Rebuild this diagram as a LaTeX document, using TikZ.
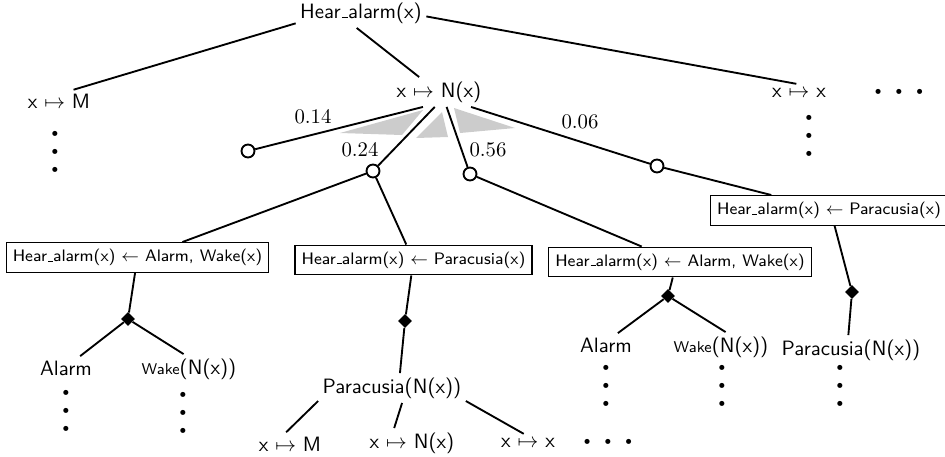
\documentclass[tikz,border=0pt]{standalone}
\usepackage{tikz}
\usetikzlibrary{shapes.geometric}
\tikzset{
    % Define standard edge style
    branch/.style={
           draw=black,
           line width=0.9pt,}
}
\newcommand{\dotfont}{\fontsize{5}{8.5}\selectfont}
\newcommand{\vdotz}{$\bullet$\\$\bullet$\\$\bullet$}
\newcommand{\hdotz}{$\bullet$\hspace{6.3pt}$\bullet$\hspace{6.3pt}$\bullet$}
\newcommand{\usc}{\leavevmode\kern.06em\vbox{\hrule width.3em height .5pt}}
\newcommand{\hear}{Hear\usc alarm(x)}
\newcommand{\wake}{{\fontsize{7.5}{9}\selectfont Wake}}

\begin{document}
\begin{tikzpicture}[x=0.1693mm, y=-0.1693mm, font=\sffamily]
\tikzstyle{term}=[inner sep=2pt, align=center]
\tikzstyle{rulebox}=[draw=black, line width=0.5pt, rectangle, inner sep=3.2pt, font=\sffamily\footnotesize]
\tikzstyle{choice}=[circle, draw=black, fill=white, line width=0.9pt, inner sep=0pt, minimum size=2.2mm]
\tikzstyle{andnode}=[diamond, fill=black, inner sep=0pt, minimum size=2.4mm]
\tikzstyle{dotsnode}=[inner sep=0pt, align=center, font=\dotfont]
\tikzstyle{prob}=[inner sep=0pt, font=\rmfamily]

\useasboundingbox (0,0) rectangle (945,457);

%%%%%%%%%%%%%%%%%%%%%%%%%%%%%%%%%
% top level
%%%%%%%%%%%%%%%%%%%%%%%%%%%%%%%%%
    \node[term] (root) at (361,13) {\hear};
    \node[term] (xM)   at (59,101.5) {x $\mapsto$ M};
    \node[term] (xN)   at (439,92) {x $\mapsto$ N(x)};
    \node[term] (xx)   at (799,93) {x $\mapsto$ x};
    \node[dotsnode] (topdots) at (899,92) {\hdotz};
    \node[dotsnode] (xMdots)  at (55,152) {\vdotz};
    \node[dotsnode] (xxdots)  at (809,136) {\vdotz};

\path[branch] (root.189) -- (xM.39);
\path[branch] (root.254) -- (xN.143);
\path[branch] (root.357) -- (xx.106);

%%%%%%%%%%%%%%%%%%%%%%%%%%%%%%%%%
% choices below x -> N(x)
%%%%%%%%%%%%%%%%%%%%%%%%%%%%%%%%%
    \fill[black!20] (340,133) -- (423,110) -- (402,135) -- cycle;
    \fill[black!20] (442,112) -- (416,138) -- (448,137) -- cycle;
    \fill[black!20] (454,108) -- (460,133) -- (515,128) -- cycle;

    \node[choice] (c1) at (248,151) {};
    \node[choice] (c2) at (373,171) {};
    \node[choice] (c3) at (470,174) {};
    \node[choice] (c4) at (657,166) {};

\path[branch] (xN.223) -- (c1);
\path[branch] (xN.254) -- (c2);
\path[branch] (xN.297) -- (c3);
\path[branch] (xN.335) -- (c4);

    \node[prob] (p1) at (313,117) {$0.14$};
    \node[prob] (p2) at (360,150) {$0.24$};
    \node[prob] (p3) at (488,150) {$0.56$};
    \node[prob] (p4) at (580,122) {$0.06$};

%%%%%%%%%%%%%%%%%%%%%%%%%%%%%%%%%
% rules
%%%%%%%%%%%%%%%%%%%%%%%%%%%%%%%%%
    \node[rulebox] (r1) at (137.5,257.5) {\hear{} $\leftarrow$ Alarm, Wake(x)};
    \node[rulebox] (r2) at (413.5,260) {\hear{} $\leftarrow$ Paracusia(x)};
    \node[rulebox] (r3) at (680,262) {\hear{} $\leftarrow$ Alarm, Wake(x)};
    \node[rulebox] (r4) at (829,210.5) {\hear{} $\leftarrow$ Paracusia(x)};

\path[branch] (c2) -- (r1.19);
\path[branch] (c2) -- (r2.115);
\path[branch] (c3) -- (r3.158);
\path[branch] (c4) -- (r4.165);

    \node[andnode] (d1) at (128,319) {};
    \node[andnode] (d2) at (405,321) {};
    \node[andnode] (d3) at (668,296) {};
    \node[andnode] (d4) at (852,292) {};

\path[branch] (r1.261) -- (d1);
\path[branch] (r2.262) -- (d2);
\path[branch] (r3.245) -- (d3);
\path[branch] (r4.290) -- (d4);

%%%%%%%%%%%%%%%%%%%%%%%%%%%%%%%%%
% bodies
%%%%%%%%%%%%%%%%%%%%%%%%%%%%%%%%%
    \node[term] (alarmL) at (66,368) {Alarm};
    \node[term] (wakeL)  at (189,369) {\wake(N(x))};
    \node[term] (paraM)  at (392,388) {Paracusia(N(x))};
    \node[term] (alarmR) at (606,345) {Alarm};
    \node[term] (wakeR)  at (721,347) {\wake(N(x))};
    \node[term] (paraR)  at (851,350) {Paracusia(N(x))};

\path[branch] (d1) -- (alarmL.40);
\path[branch] (d1) -- (wakeL.110);
\path[branch] (d2) -- (paraM.62);
\path[branch] (d3) -- (alarmR.45);
\path[branch] (d3) -- (wakeR.73);
\path[branch] (d4) -- (paraR.100);

    \node[dotsnode] (alarmLdots) at (66,411) {\vdotz};
    \node[dotsnode] (wakeLdots)  at (183,413) {\vdotz};
    \node[dotsnode] (alarmRdots) at (606,386) {\vdotz};
    \node[dotsnode] (wakeRdots)  at (722,386) {\vdotz};
    \node[dotsnode] (paraRdots)  at (840,386) {\vdotz};

%%%%%%%%%%%%%%%%%%%%%%%%%%%%%%%%%
% below Paracusia(N(x))
%%%%%%%%%%%%%%%%%%%%%%%%%%%%%%%%%
    \node[term] (bxM) at (290,444) {x $\mapsto$ M};
    \node[term] (bxN) at (412,443) {x $\mapsto$ N(x)};
    \node[term] (bxx) at (528,443) {x $\mapsto$ x};
    \node[dotsnode] (bdots) at (608,442) {\hdotz};

\path[branch] (paraM.190) -- (bxM.108);
\path[branch] (paraM.304) -- (bxN.140);
\path[branch] (paraM.350) -- (bxx.115);

\end{tikzpicture}
\end{document}
